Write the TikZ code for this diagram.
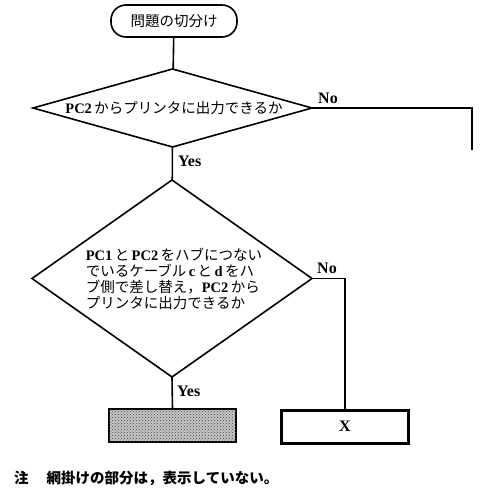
\documentclass[tikz,border=0pt]{standalone}
\usepackage{fontspec}
\setmainfont{Liberation Serif}
\newfontfamily\jp{Noto Sans CJK JP}
\usetikzlibrary{shapes.geometric,patterns}
\newcommand\lt[1]{{\rmfamily\bfseries #1}}
\tikzset{
  flow/.style={line width=1.6pt},
  dia/.style={draw, shape=diamond, inner sep=0pt, outer sep=0pt, flow},
  txt/.style={font=\jp\fontsize{14.5}{15.8}\selectfont, inner sep=0pt},
  lbl/.style={font=\rmfamily\bfseries\fontsize{16}{17}\selectfont, inner sep=0pt},
  term/.style={draw, flow, rounded corners=15pt, minimum width=126pt, minimum height=32pt, inner sep=0pt, outer sep=0pt},
  procbox/.style={draw, minimum width=127pt, minimum height=33pt, inner sep=0pt, outer sep=0pt}
}
\begin{document}
\begin{tikzpicture}[x=1pt,y=-1pt]
\useasboundingbox (0,0) rectangle (492,500);
\node[term, txt] (start) at (174,21) {問題の切分け};
\node[dia, minimum width=279pt, minimum height=78pt] (d1) at (172.5,108) {};
\node[txt] (d1t) at (174,108) {\lt{PC2}\,からプリンタに出力できるか};
\node[dia, minimum width=280pt, minimum height=197pt] (d2) at (172,278.5) {};
\node[txt, align=left] (d2t) at (174,279) {\lt{PC1}\,と\,\lt{PC2}\,をハブにつない\\でいるケーブル\,\lt{c}\,と\,\lt{d}\,をハ\\ブ側で差し替え，\lt{PC2}\,から\\プリンタに出力できるか};
\node[procbox, flow, fill=gray!45, postaction={pattern=crosshatch dots, pattern color=black!75}] (shade) at (172.5,425.5) {};
\node[procbox, lbl, line width=3pt] (xbox) at (345,426.5) {X};
\coordinate (c1) at (472,108);
\coordinate (e1) at (472,150);
\coordinate (c2) at (345,278.5);
\draw[flow] (start) -- (d1);
\draw[flow] (d1) -- (d2);
\draw[flow] (d1.east) -- (c1) -- (e1);
\draw[flow] (d2.east) -- (c2) -- (xbox.north);
\draw[flow] (d2.south) -- (shade.north);
\node[lbl, anchor=west] (no1) at (318,98) {No};
\node[lbl, anchor=west] (yes1) at (178,161) {Yes};
\node[lbl, anchor=west] (no2) at (317,268) {No};
\node[lbl, anchor=west] (yes2) at (177,391) {Yes};
\node[txt, anchor=west, font=\jp\bfseries\fontsize{14.5}{15.8}\selectfont] (note) at (14,478) {注\hspace{18pt}網掛けの部分は，表示していない。};
\end{tikzpicture}
\end{document}
